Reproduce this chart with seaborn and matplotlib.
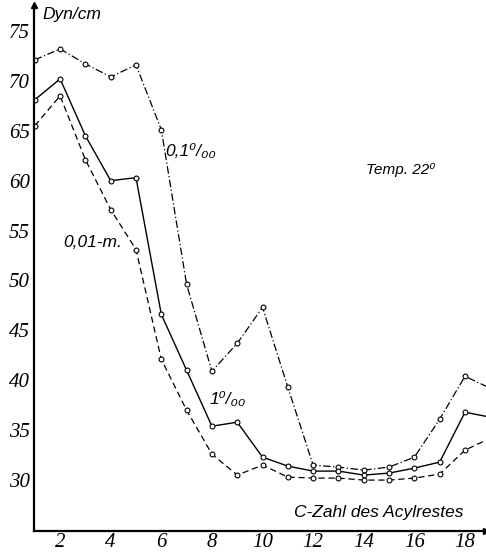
"""Surface tension vs. C-number of the acyl residue (Temp. 22°)."""
import matplotlib
matplotlib.use("Agg")
import matplotlib.pyplot as plt
import numpy as np
import pandas as pd
import seaborn as sns

carbon = list(range(1, 20))
tension_01_permille = [72.1, 73.2, 71.7, 70.4, 71.6, 65.1, 49.6, 40.9, 43.7, 47.3,
                       39.3, 31.5, 31.3, 31.0, 31.3, 32.3, 36.1, 40.4, 39.2]
tension_1_permille = [68.1, 70.2, 64.5, 60.0, 60.3, 46.6, 41.0, 35.4, 35.8, 32.3,
                      31.4, 30.9, 30.9, 30.5, 30.7, 31.2, 31.8, 36.8, 36.3]
tension_001_molar = [65.5, 68.5, 62.1, 57.1, 53.1, 42.1, 37.0, 32.6, 30.5, 31.5,
                     30.3, 30.2, 30.2, 30.0, 30.0, 30.2, 30.6, 33.0, 34.2]
x_ticks = [2, 4, 6, 8, 10, 12, 14, 16, 18]
y_ticks = [30, 35, 40, 45, 50, 55, 60, 65, 70, 75]

sns.set_style("white")
plt.rcParams["font.family"] = ["Liberation Sans", "DejaVu Sans"]

df = pd.DataFrame({
    "C": carbon * 3,
    "tension": tension_01_permille + tension_1_permille + tension_001_molar,
    "series": ["0.1"] * 19 + ["1"] * 19 + ["0.01m"] * 19,
})

fig = plt.figure(figsize=(4.86, 5.56), dpi=100)
ax = fig.add_axes([0.070, 0.045, 0.93, 0.946])

styles = {
    "0.1": dict(dashes=(6, 2, 1, 2), lw=0.9),
    "1": dict(dashes=None, lw=1.0),
    "0.01m": dict(dashes=(5, 3), lw=0.9),
}
for name, st in styles.items():
    sub = df[df["series"] == name]
    sns.lineplot(data=sub, x="C", y="tension", ax=ax, color="black",
                 linewidth=st["lw"], marker="o", markersize=3.5,
                 markerfacecolor="white", markeredgecolor="black",
                 markeredgewidth=0.8, legend=False)
    if st["dashes"] is not None:
        ax.lines[-1].set_dashes(st["dashes"])

ax.set_xlim(0.97, 18.83)
ax.set_ylim(24.9, 77.6)
ax.set_xticks(x_ticks)
ax.set_yticks(y_ticks)
tick_font = dict(family=["Liberation Serif", "DejaVu Serif"], style="italic", size=15)
ax.set_xticklabels([str(t) for t in x_ticks], fontdict=tick_font)
ax.set_yticklabels([str(t) for t in y_ticks], fontdict=tick_font)
ax.tick_params(direction="in", length=3, width=0.8, colors="black")
ax.tick_params(axis="x", pad=1.5)
ax.tick_params(axis="y", pad=3)
ax.set_xlabel("")
ax.set_ylabel("")
for side in ("top", "right"):
    ax.spines[side].set_visible(False)
for side in ("left", "bottom"):
    ax.spines[side].set_linewidth(1.6)
    ax.spines[side].set_color("black")

# axis arrows
ax.plot(1, 0, ">", transform=ax.transAxes, color="black", ms=5, clip_on=False)
ax.plot(0, 1, "^", transform=ax.transAxes, color="black", ms=5, clip_on=False)

txt = dict(fontstyle="italic", color="black")
ax.text(1.29, 76.6, "Dyn/cm", fontsize=12.5, va="center", ha="left", **txt)
ax.text(6.15, 62.9, "0,1⁰/₀₀", fontsize=12.5, va="center", ha="left", **txt)
ax.text(14.07, 61.1, "Temp. 22⁰", fontsize=11, va="center", ha="left", **txt)
ax.text(2.12, 53.8, "0,01-m.", fontsize=12.5, va="center", ha="left", **txt)
ax.text(7.9, 38.1, "1⁰/₀₀", fontsize=12.5, va="center", ha="left", **txt)
ax.text(14.58, 26.8, "C-Zahl des Acylrestes", fontsize=12.5, va="center",
        ha="center", **txt)

fig.savefig("out.png", dpi=100)
